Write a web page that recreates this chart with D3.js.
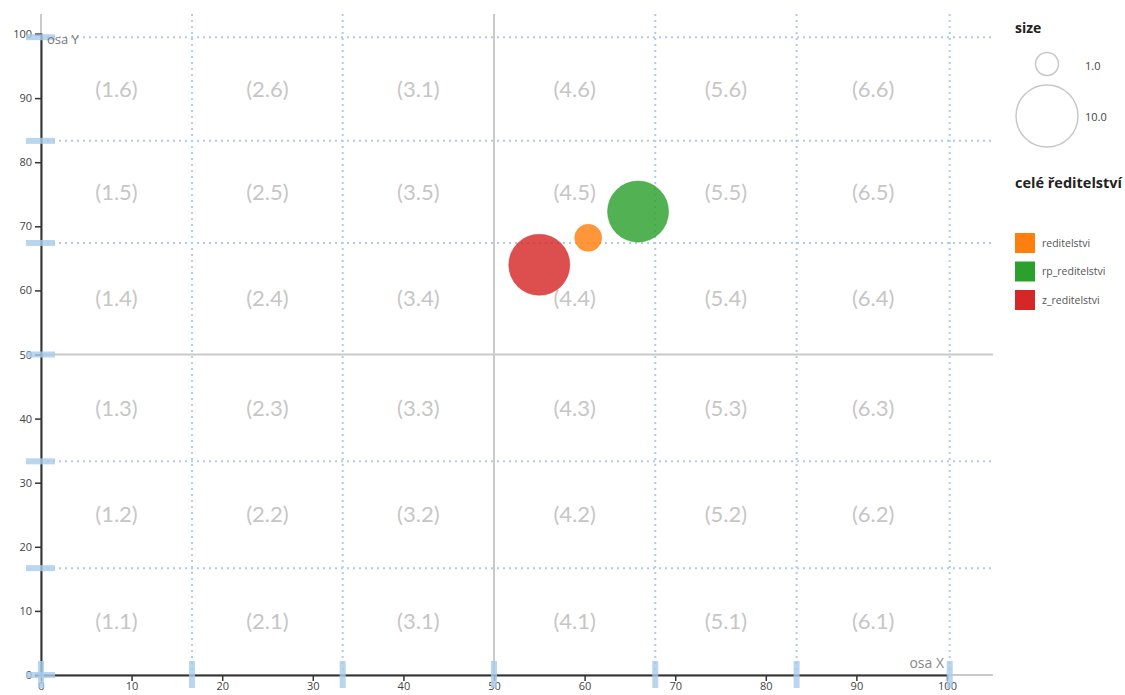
<!DOCTYPE html>
<html><head><meta charset="utf-8">
<script src="https://cdn.jsdelivr.net/npm/d3@7"></script>
<style>body{margin:0;background:#fff}svg{display:block}</style>
</head><body><svg id="c" width="1125" height="695"></svg>
<script>
const seriesNames = ["reditelstvi","rp_reditelstvi","z_reditelstvi"];
const seriesColors = ["#ff7f0e","#2ca02c","#d62728"];
const xValues = [60.4, 65.9, 55.0];
const yValues = [68.2, 72.3, 64.0];
const sizeValues = [1.5, 9.7, 9.7];
const xTicks = [0,10,20,30,40,50,60,70,80,90,100];
const yTicks = [0,10,20,30,40,50,60,70,80,90,100];
const xGrid = [0, 16.67, 33.3, 50, 67.8, 83.4, 100.3];
const yGrid = [0, 16.67, 33.33, 50, 67.4, 83.33, 99.5];
const cellLabels = [
 ["(1.1)","(1.2)","(1.3)","(1.4)","(1.5)","(1.6)"],
 ["(2.1)","(2.2)","(2.3)","(2.4)","(2.5)","(2.6)"],
 ["(3.1)","(3.2)","(3.3)","(3.4)","(3.5)","(3.1)"],
 ["(4.1)","(4.2)","(4.3)","(4.4)","(4.5)","(4.6)"],
 ["(5.1)","(5.2)","(5.3)","(5.4)","(5.5)","(5.6)"],
 ["(6.1)","(6.2)","(6.3)","(6.4)","(6.5)","(6.6)"]];
const sizeLegend = [1, 10];

const svg = d3.select("#c");
const x = d3.scaleLinear().domain([0,100]).range([41,947]);
const y = d3.scaleLinear().domain([0,100]).range([675,34]);
const r = d3.scaleSqrt().domain([1,10]).range([11.5,31]);
const font = "'Open Sans', sans-serif";

const g = svg.append("g");
xGrid.forEach(v=>{
  if (v===0||v===50) return;
  g.append("line").attr("x1",x(v)).attr("x2",x(v)).attr("y1",14).attr("y2",y(0))
   .attr("stroke","#b3cbe9").attr("stroke-width",2).attr("stroke-dasharray","2,4");
});
yGrid.forEach(v=>{
  if (v===0||v===50) return;
  g.append("line").attr("x1",x(0)).attr("x2",992).attr("y1",y(v)).attr("y2",y(v))
   .attr("stroke","#b3cbe9").attr("stroke-width",2).attr("stroke-dasharray","2,4");
});
g.append("line").attr("x1",x(50)).attr("x2",x(50)).attr("y1",14).attr("y2",y(0)).attr("stroke","#cacaca").attr("stroke-width",2);
g.append("line").attr("x1",x(0)).attr("x2",993).attr("y1",y(50)).attr("y2",y(50)).attr("stroke","#cacaca").attr("stroke-width",2);
g.append("line").attr("x1",x(0)).attr("x2",x(0)).attr("y1",14).attr("y2",y(0)).attr("stroke","#cacaca").attr("stroke-width",2);
g.append("line").attr("x1",x(0)).attr("x2",993).attr("y1",y(0)).attr("y2",y(0)).attr("stroke","#cacaca").attr("stroke-width",2);

const colMid = d3.range(6).map(i=>(xGrid[i]+xGrid[i+1])/2);
const rowMid = d3.range(6).map(j=>(yGrid[j]+yGrid[j+1])/2);
cellLabels.forEach((col,i)=>col.forEach((t,j)=>{
  svg.append("text").attr("x",x(colMid[i])).attr("y",y(rowMid[j])).attr("dy","0.35em")
   .attr("text-anchor","middle").attr("fill","#c6c6c6").attr("font-family","Lato, sans-serif")
   .attr("font-size",22).text(t);
}));

const ax = svg.append("g").attr("transform",`translate(0,${y(0)})`)
  .call(d3.axisBottom(x).tickValues(xTicks).tickSize(6).tickSizeOuter(0));
const ay = svg.append("g").attr("transform",`translate(${x(0)},0)`)
  .call(d3.axisLeft(y).tickValues(yTicks).tickSize(6).tickSizeOuter(6));
[ax,ay].forEach(a=>{
  a.select(".domain").attr("stroke","#333").attr("stroke-width",2);
  a.selectAll(".tick line").attr("stroke","#333").attr("stroke-width",1.5);
  a.selectAll(".tick text").attr("fill","#444").attr("font-family",font).attr("font-size",11);
});
ax.selectAll(".tick text").attr("y",7).attr("dy","0.71em");

xGrid.forEach(v=>{
  svg.append("rect").attr("x",x(v)-3).attr("y",661).attr("width",6).attr("height",27)
   .attr("fill","#a9cbea").attr("opacity",0.8);
});
yGrid.forEach(v=>{
  svg.append("rect").attr("x",26).attr("y",y(v)-3).attr("width",29).attr("height",6)
   .attr("fill","#a9cbea").attr("opacity",0.8);
});

svg.append("text").attr("x",47).attr("y",44).attr("fill","#777").attr("font-family",font).attr("font-size",13).text("osa Y");
svg.append("text").attr("x",944).attr("y",668).attr("text-anchor","end").attr("fill","#888").attr("font-family",font).attr("font-size",14).text("osa X");

const idx = d3.range(seriesNames.length);
svg.append("g").selectAll("circle").data(idx).join("circle")
  .attr("cx",i=>x(xValues[i])).attr("cy",i=>y(yValues[i])).attr("r",i=>r(sizeValues[i]))
  .attr("fill",i=>seriesColors[i]).attr("fill-opacity",0.82)
  .attr("stroke",i=>seriesColors[i]).attr("stroke-opacity",0.4).attr("stroke-width",1);

svg.append("text").attr("x",1015).attr("y",33).attr("font-family",font).attr("font-weight","bold").attr("font-size",14).attr("fill","#222").text("size");
const sl = [{cy:64, lx:1085, ly:66},{cy:116, lx:1085, ly:117}];
sizeLegend.forEach((v,k)=>{
  svg.append("circle").attr("cx",1047).attr("cy",sl[k].cy).attr("r",r(v)).attr("fill","none").attr("stroke","#c8c8c8").attr("stroke-width",1.5);
  svg.append("text").attr("x",sl[k].lx).attr("y",sl[k].ly).attr("dy","0.35em").attr("font-family",font).attr("font-size",11).attr("fill","#444").text(d3.format(".1f")(v));
});
svg.append("text").attr("x",1015).attr("y",188).attr("font-family",font).attr("font-weight","bold").attr("font-size",14.5).attr("fill","#222").text("celé ředitelství");
idx.forEach(i=>{
  svg.append("rect").attr("x",1015).attr("y",233+i*28.5).attr("width",20).attr("height",20).attr("fill",seriesColors[i]);
  svg.append("text").attr("x",1042).attr("y",243+i*28.5).attr("dy","0.35em").attr("font-family",font).attr("font-size",10.5).attr("fill","#555").text(seriesNames[i]);
});
</script></body></html>
